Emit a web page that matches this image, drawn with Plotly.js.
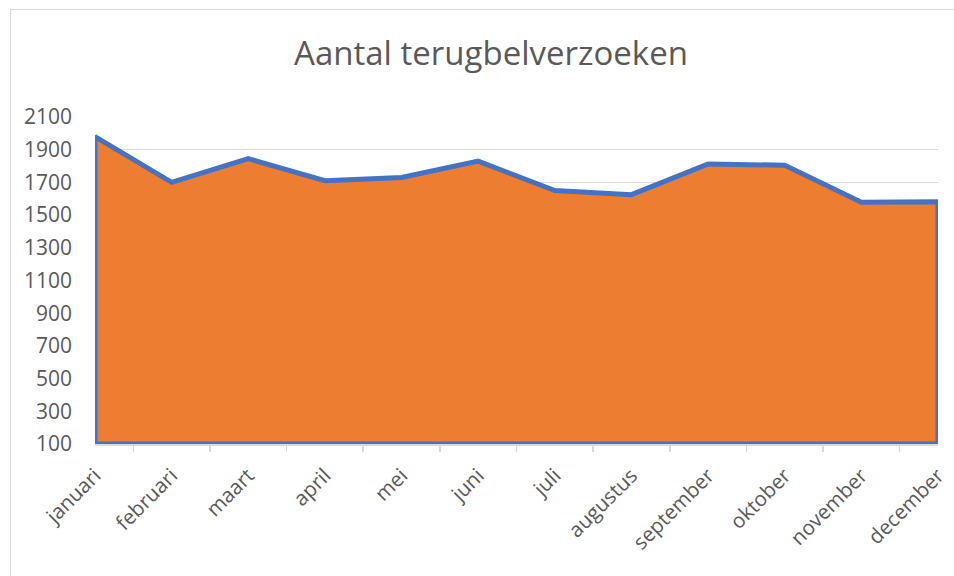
<!DOCTYPE html>
<html>
<head>
<meta charset="utf-8">
<script src="https://cdn.plot.ly/plotly-3.0.1.min.js"></script>
<style>
  html, body { margin: 0; padding: 0; background: #fff; }
  #wrap { position: relative; width: 954px; height: 576px; overflow: hidden; }
  #frame { position: absolute; left: 10px; top: 9px; width: 1000px; height: 700px;
           border-left: 1.5px solid #d9d9d9; border-top: 1.5px solid #d9d9d9; pointer-events: none; }
  #chart { position: absolute; left: 0; top: 0; width: 954px; height: 576px; }
</style>
</head>
<body>
<div id="wrap">
  <div id="chart"></div>
  <div id="frame"></div>
</div>
<script>
const months = ['januari','februari','maart','april','mei','juni','juli','augustus','september','oktober','november','december'];
const values = [1980, 1700, 1845, 1710, 1730, 1830, 1650, 1625, 1813, 1805, 1578, 1582];
const yTicks = [100, 300, 500, 700, 900, 1100, 1300, 1500, 1700, 1900, 2100];
const yMin = 100, yMax = 2100;

// closed outline: bottom-left -> values -> bottom-right -> back
const xs = [months[0]].concat(months, [months[months.length-1], months[0]]);
const ys = [yMin].concat(values, [yMin, yMin]);

const trace = {
  type: 'scatter', mode: 'lines',
  x: xs, y: ys,
  fill: 'toself', fillcolor: '#ED7D31',
  line: { color: '#4472C4', width: 5, shape: 'linear' },
  hoverinfo: 'skip'
};

const layout = {
  width: 954, height: 576,
  margin: { l: 95, r: 16, t: 117, b: 132 },
  paper_bgcolor: 'rgba(0,0,0,0)', plot_bgcolor: 'rgba(0,0,0,0)',
  showlegend: false,
  font: { family: 'Open Sans, sans-serif', color: '#595959' },
  title: { text: 'Aantal terugbelverzoeken', x: 0.5147, xref: 'container', xanchor: 'center',
           y: 0.908, yref: 'container', yanchor: 'middle',
           font: { family: 'Open Sans, sans-serif', size: 33, color: '#595959' } },
  xaxis: {
    type: 'category', categoryorder: 'array', categoryarray: months,
    range: [0, months.length - 1],
    tickson: 'boundaries', ticks: 'outside', ticklen: 6, tickcolor: '#d9d9d9', tickwidth: 1.5,
    showline: true, linecolor: '#d9d9d9', linewidth: 1.5,
    showgrid: false, zeroline: false,
    tickangle: -45, tickfont: { size: 20.5, color: '#595959' },
    ticklabelstandoff: 10,
    fixedrange: true
  },
  yaxis: {
    range: [yMin, yMax], tickvals: yTicks, ticktext: yTicks.map(String),
    showgrid: true, gridcolor: '#d9d9d9', gridwidth: 1.5,
    zeroline: false, showline: false, ticks: '',
    tickfont: { size: 21, color: '#595959' },
    ticklabelstandoff: 22,
    fixedrange: true
  }
};

Plotly.newPlot('chart', [trace], layout, { displayModeBar: false, staticPlot: true });
</script>
</body>
</html>
